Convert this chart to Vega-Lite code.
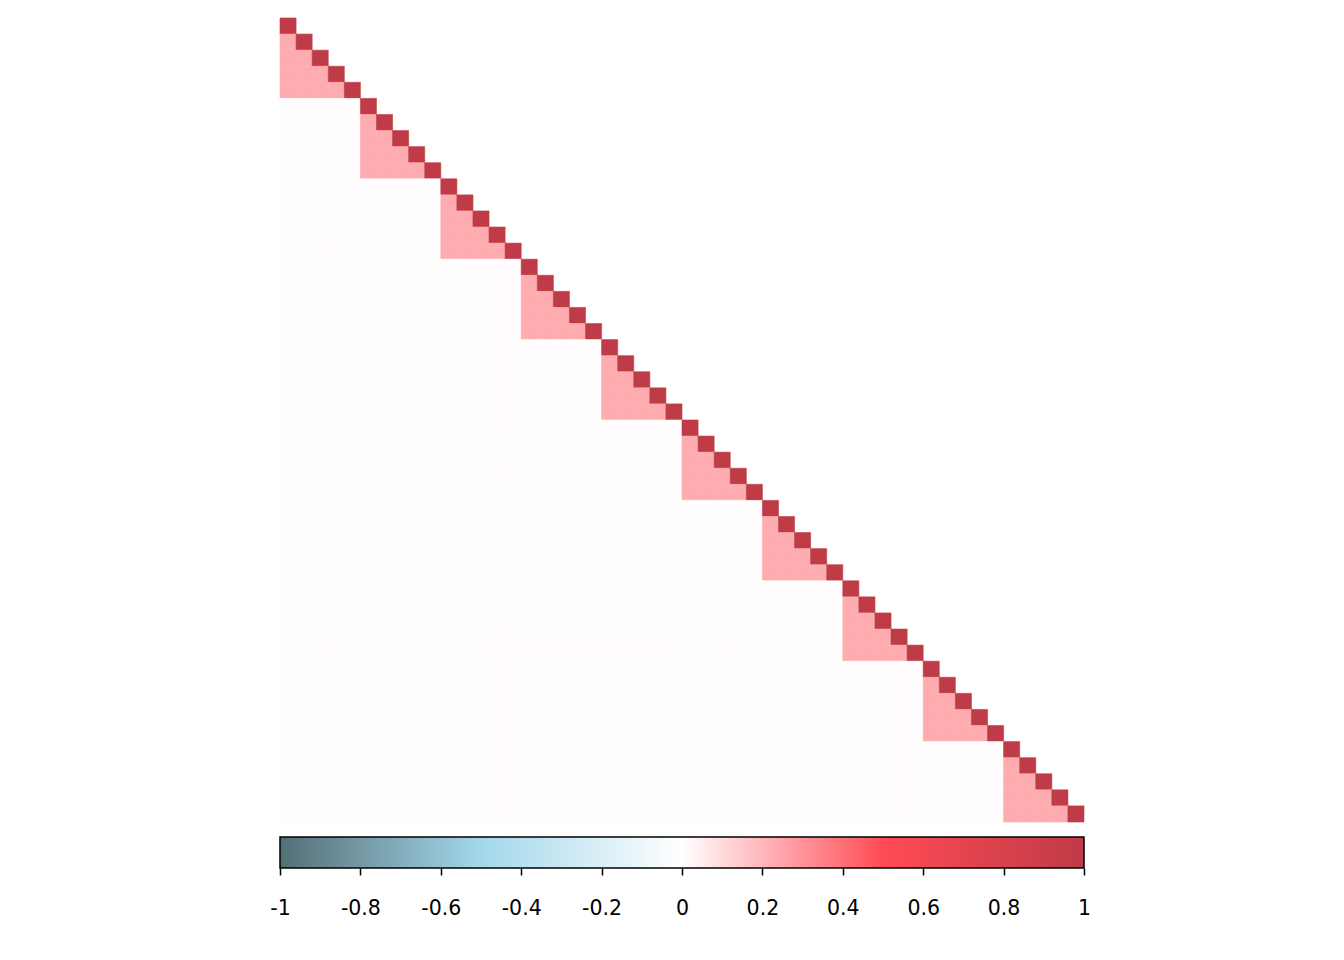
{
"$schema":"https://vega.github.io/schema/vega-lite/v6.json",
"padding":{"left":269,"top":17,"right":5,"bottom":5},
"background":"white",
"config":{"view":{"stroke":null},"font":"Liberation Sans"},
"spacing":13,
"datasets":{"cells":[
{"r":1,"c":1,"v":1},
{"r":2,"c":1,"v":0.23},{"r":2,"c":2,"v":1},
{"r":3,"c":1,"v":0.23},{"r":3,"c":2,"v":0.23},{"r":3,"c":3,"v":1},
{"r":4,"c":1,"v":0.23},{"r":4,"c":2,"v":0.23},{"r":4,"c":3,"v":0.23},{"r":4,"c":4,"v":1},
{"r":5,"c":1,"v":0.23},{"r":5,"c":2,"v":0.23},{"r":5,"c":3,"v":0.23},{"r":5,"c":4,"v":0.23},{"r":5,"c":5,"v":1},
{"r":6,"c":1,"v":0.005},{"r":6,"c":2,"v":0.005},{"r":6,"c":3,"v":0.005},{"r":6,"c":4,"v":0.005},{"r":6,"c":5,"v":0.005},{"r":6,"c":6,"v":1},
{"r":7,"c":1,"v":0.005},{"r":7,"c":2,"v":0.005},{"r":7,"c":3,"v":0.005},{"r":7,"c":4,"v":0.005},{"r":7,"c":5,"v":0.005},{"r":7,"c":6,"v":0.23},{"r":7,"c":7,"v":1},
{"r":8,"c":1,"v":0.005},{"r":8,"c":2,"v":0.005},{"r":8,"c":3,"v":0.005},{"r":8,"c":4,"v":0.005},{"r":8,"c":5,"v":0.005},{"r":8,"c":6,"v":0.23},{"r":8,"c":7,"v":0.23},{"r":8,"c":8,"v":1},
{"r":9,"c":1,"v":0.005},{"r":9,"c":2,"v":0.005},{"r":9,"c":3,"v":0.005},{"r":9,"c":4,"v":0.005},{"r":9,"c":5,"v":0.005},{"r":9,"c":6,"v":0.23},{"r":9,"c":7,"v":0.23},{"r":9,"c":8,"v":0.23},{"r":9,"c":9,"v":1},
{"r":10,"c":1,"v":0.005},{"r":10,"c":2,"v":0.005},{"r":10,"c":3,"v":0.005},{"r":10,"c":4,"v":0.005},{"r":10,"c":5,"v":0.005},{"r":10,"c":6,"v":0.23},{"r":10,"c":7,"v":0.23},{"r":10,"c":8,"v":0.23},{"r":10,"c":9,"v":0.23},{"r":10,"c":10,"v":1},
{"r":11,"c":1,"v":0.005},{"r":11,"c":2,"v":0.005},{"r":11,"c":3,"v":0.005},{"r":11,"c":4,"v":0.005},{"r":11,"c":5,"v":0.005},{"r":11,"c":6,"v":0.005},{"r":11,"c":7,"v":0.005},{"r":11,"c":8,"v":0.005},{"r":11,"c":9,"v":0.005},{"r":11,"c":10,"v":0.005},{"r":11,"c":11,"v":1},
{"r":12,"c":1,"v":0.005},{"r":12,"c":2,"v":0.005},{"r":12,"c":3,"v":0.005},{"r":12,"c":4,"v":0.005},{"r":12,"c":5,"v":0.005},{"r":12,"c":6,"v":0.005},{"r":12,"c":7,"v":0.005},{"r":12,"c":8,"v":0.005},{"r":12,"c":9,"v":0.005},{"r":12,"c":10,"v":0.005},{"r":12,"c":11,"v":0.23},{"r":12,"c":12,"v":1},
{"r":13,"c":1,"v":0.005},{"r":13,"c":2,"v":0.005},{"r":13,"c":3,"v":0.005},{"r":13,"c":4,"v":0.005},{"r":13,"c":5,"v":0.005},{"r":13,"c":6,"v":0.005},{"r":13,"c":7,"v":0.005},{"r":13,"c":8,"v":0.005},{"r":13,"c":9,"v":0.005},{"r":13,"c":10,"v":0.005},{"r":13,"c":11,"v":0.23},{"r":13,"c":12,"v":0.23},{"r":13,"c":13,"v":1},
{"r":14,"c":1,"v":0.005},{"r":14,"c":2,"v":0.005},{"r":14,"c":3,"v":0.005},{"r":14,"c":4,"v":0.005},{"r":14,"c":5,"v":0.005},{"r":14,"c":6,"v":0.005},{"r":14,"c":7,"v":0.005},{"r":14,"c":8,"v":0.005},{"r":14,"c":9,"v":0.005},{"r":14,"c":10,"v":0.005},{"r":14,"c":11,"v":0.23},{"r":14,"c":12,"v":0.23},{"r":14,"c":13,"v":0.23},{"r":14,"c":14,"v":1},
{"r":15,"c":1,"v":0.005},{"r":15,"c":2,"v":0.005},{"r":15,"c":3,"v":0.005},{"r":15,"c":4,"v":0.005},{"r":15,"c":5,"v":0.005},{"r":15,"c":6,"v":0.005},{"r":15,"c":7,"v":0.005},{"r":15,"c":8,"v":0.005},{"r":15,"c":9,"v":0.005},{"r":15,"c":10,"v":0.005},{"r":15,"c":11,"v":0.23},{"r":15,"c":12,"v":0.23},{"r":15,"c":13,"v":0.23},{"r":15,"c":14,"v":0.23},{"r":15,"c":15,"v":1},
{"r":16,"c":1,"v":0.005},{"r":16,"c":2,"v":0.005},{"r":16,"c":3,"v":0.005},{"r":16,"c":4,"v":0.005},{"r":16,"c":5,"v":0.005},{"r":16,"c":6,"v":0.005},{"r":16,"c":7,"v":0.005},{"r":16,"c":8,"v":0.005},{"r":16,"c":9,"v":0.005},{"r":16,"c":10,"v":0.005},{"r":16,"c":11,"v":0.005},{"r":16,"c":12,"v":0.005},{"r":16,"c":13,"v":0.005},{"r":16,"c":14,"v":0.005},{"r":16,"c":15,"v":0.005},{"r":16,"c":16,"v":1},
{"r":17,"c":1,"v":0.005},{"r":17,"c":2,"v":0.005},{"r":17,"c":3,"v":0.005},{"r":17,"c":4,"v":0.005},{"r":17,"c":5,"v":0.005},{"r":17,"c":6,"v":0.005},{"r":17,"c":7,"v":0.005},{"r":17,"c":8,"v":0.005},{"r":17,"c":9,"v":0.005},{"r":17,"c":10,"v":0.005},{"r":17,"c":11,"v":0.005},{"r":17,"c":12,"v":0.005},{"r":17,"c":13,"v":0.005},{"r":17,"c":14,"v":0.005},{"r":17,"c":15,"v":0.005},{"r":17,"c":16,"v":0.23},{"r":17,"c":17,"v":1},
{"r":18,"c":1,"v":0.005},{"r":18,"c":2,"v":0.005},{"r":18,"c":3,"v":0.005},{"r":18,"c":4,"v":0.005},{"r":18,"c":5,"v":0.005},{"r":18,"c":6,"v":0.005},{"r":18,"c":7,"v":0.005},{"r":18,"c":8,"v":0.005},{"r":18,"c":9,"v":0.005},{"r":18,"c":10,"v":0.005},{"r":18,"c":11,"v":0.005},{"r":18,"c":12,"v":0.005},{"r":18,"c":13,"v":0.005},{"r":18,"c":14,"v":0.005},{"r":18,"c":15,"v":0.005},{"r":18,"c":16,"v":0.23},{"r":18,"c":17,"v":0.23},{"r":18,"c":18,"v":1},
{"r":19,"c":1,"v":0.005},{"r":19,"c":2,"v":0.005},{"r":19,"c":3,"v":0.005},{"r":19,"c":4,"v":0.005},{"r":19,"c":5,"v":0.005},{"r":19,"c":6,"v":0.005},{"r":19,"c":7,"v":0.005},{"r":19,"c":8,"v":0.005},{"r":19,"c":9,"v":0.005},{"r":19,"c":10,"v":0.005},{"r":19,"c":11,"v":0.005},{"r":19,"c":12,"v":0.005},{"r":19,"c":13,"v":0.005},{"r":19,"c":14,"v":0.005},{"r":19,"c":15,"v":0.005},{"r":19,"c":16,"v":0.23},{"r":19,"c":17,"v":0.23},{"r":19,"c":18,"v":0.23},{"r":19,"c":19,"v":1},
{"r":20,"c":1,"v":0.005},{"r":20,"c":2,"v":0.005},{"r":20,"c":3,"v":0.005},{"r":20,"c":4,"v":0.005},{"r":20,"c":5,"v":0.005},{"r":20,"c":6,"v":0.005},{"r":20,"c":7,"v":0.005},{"r":20,"c":8,"v":0.005},{"r":20,"c":9,"v":0.005},{"r":20,"c":10,"v":0.005},{"r":20,"c":11,"v":0.005},{"r":20,"c":12,"v":0.005},{"r":20,"c":13,"v":0.005},{"r":20,"c":14,"v":0.005},{"r":20,"c":15,"v":0.005},{"r":20,"c":16,"v":0.23},{"r":20,"c":17,"v":0.23},{"r":20,"c":18,"v":0.23},{"r":20,"c":19,"v":0.23},{"r":20,"c":20,"v":1},
{"r":21,"c":1,"v":0.005},{"r":21,"c":2,"v":0.005},{"r":21,"c":3,"v":0.005},{"r":21,"c":4,"v":0.005},{"r":21,"c":5,"v":0.005},{"r":21,"c":6,"v":0.005},{"r":21,"c":7,"v":0.005},{"r":21,"c":8,"v":0.005},{"r":21,"c":9,"v":0.005},{"r":21,"c":10,"v":0.005},{"r":21,"c":11,"v":0.005},{"r":21,"c":12,"v":0.005},{"r":21,"c":13,"v":0.005},{"r":21,"c":14,"v":0.005},{"r":21,"c":15,"v":0.005},{"r":21,"c":16,"v":0.005},{"r":21,"c":17,"v":0.005},{"r":21,"c":18,"v":0.005},{"r":21,"c":19,"v":0.005},{"r":21,"c":20,"v":0.005},{"r":21,"c":21,"v":1},
{"r":22,"c":1,"v":0.005},{"r":22,"c":2,"v":0.005},{"r":22,"c":3,"v":0.005},{"r":22,"c":4,"v":0.005},{"r":22,"c":5,"v":0.005},{"r":22,"c":6,"v":0.005},{"r":22,"c":7,"v":0.005},{"r":22,"c":8,"v":0.005},{"r":22,"c":9,"v":0.005},{"r":22,"c":10,"v":0.005},{"r":22,"c":11,"v":0.005},{"r":22,"c":12,"v":0.005},{"r":22,"c":13,"v":0.005},{"r":22,"c":14,"v":0.005},{"r":22,"c":15,"v":0.005},{"r":22,"c":16,"v":0.005},{"r":22,"c":17,"v":0.005},{"r":22,"c":18,"v":0.005},{"r":22,"c":19,"v":0.005},{"r":22,"c":20,"v":0.005},{"r":22,"c":21,"v":0.23},{"r":22,"c":22,"v":1},
{"r":23,"c":1,"v":0.005},{"r":23,"c":2,"v":0.005},{"r":23,"c":3,"v":0.005},{"r":23,"c":4,"v":0.005},{"r":23,"c":5,"v":0.005},{"r":23,"c":6,"v":0.005},{"r":23,"c":7,"v":0.005},{"r":23,"c":8,"v":0.005},{"r":23,"c":9,"v":0.005},{"r":23,"c":10,"v":0.005},{"r":23,"c":11,"v":0.005},{"r":23,"c":12,"v":0.005},{"r":23,"c":13,"v":0.005},{"r":23,"c":14,"v":0.005},{"r":23,"c":15,"v":0.005},{"r":23,"c":16,"v":0.005},{"r":23,"c":17,"v":0.005},{"r":23,"c":18,"v":0.005},{"r":23,"c":19,"v":0.005},{"r":23,"c":20,"v":0.005},{"r":23,"c":21,"v":0.23},{"r":23,"c":22,"v":0.23},{"r":23,"c":23,"v":1},
{"r":24,"c":1,"v":0.005},{"r":24,"c":2,"v":0.005},{"r":24,"c":3,"v":0.005},{"r":24,"c":4,"v":0.005},{"r":24,"c":5,"v":0.005},{"r":24,"c":6,"v":0.005},{"r":24,"c":7,"v":0.005},{"r":24,"c":8,"v":0.005},{"r":24,"c":9,"v":0.005},{"r":24,"c":10,"v":0.005},{"r":24,"c":11,"v":0.005},{"r":24,"c":12,"v":0.005},{"r":24,"c":13,"v":0.005},{"r":24,"c":14,"v":0.005},{"r":24,"c":15,"v":0.005},{"r":24,"c":16,"v":0.005},{"r":24,"c":17,"v":0.005},{"r":24,"c":18,"v":0.005},{"r":24,"c":19,"v":0.005},{"r":24,"c":20,"v":0.005},{"r":24,"c":21,"v":0.23},{"r":24,"c":22,"v":0.23},{"r":24,"c":23,"v":0.23},{"r":24,"c":24,"v":1},
{"r":25,"c":1,"v":0.005},{"r":25,"c":2,"v":0.005},{"r":25,"c":3,"v":0.005},{"r":25,"c":4,"v":0.005},{"r":25,"c":5,"v":0.005},{"r":25,"c":6,"v":0.005},{"r":25,"c":7,"v":0.005},{"r":25,"c":8,"v":0.005},{"r":25,"c":9,"v":0.005},{"r":25,"c":10,"v":0.005},{"r":25,"c":11,"v":0.005},{"r":25,"c":12,"v":0.005},{"r":25,"c":13,"v":0.005},{"r":25,"c":14,"v":0.005},{"r":25,"c":15,"v":0.005},{"r":25,"c":16,"v":0.005},{"r":25,"c":17,"v":0.005},{"r":25,"c":18,"v":0.005},{"r":25,"c":19,"v":0.005},{"r":25,"c":20,"v":0.005},{"r":25,"c":21,"v":0.23},{"r":25,"c":22,"v":0.23},{"r":25,"c":23,"v":0.23},{"r":25,"c":24,"v":0.23},{"r":25,"c":25,"v":1},
{"r":26,"c":1,"v":0.005},{"r":26,"c":2,"v":0.005},{"r":26,"c":3,"v":0.005},{"r":26,"c":4,"v":0.005},{"r":26,"c":5,"v":0.005},{"r":26,"c":6,"v":0.005},{"r":26,"c":7,"v":0.005},{"r":26,"c":8,"v":0.005},{"r":26,"c":9,"v":0.005},{"r":26,"c":10,"v":0.005},{"r":26,"c":11,"v":0.005},{"r":26,"c":12,"v":0.005},{"r":26,"c":13,"v":0.005},{"r":26,"c":14,"v":0.005},{"r":26,"c":15,"v":0.005},{"r":26,"c":16,"v":0.005},{"r":26,"c":17,"v":0.005},{"r":26,"c":18,"v":0.005},{"r":26,"c":19,"v":0.005},{"r":26,"c":20,"v":0.005},{"r":26,"c":21,"v":0.005},{"r":26,"c":22,"v":0.005},{"r":26,"c":23,"v":0.005},{"r":26,"c":24,"v":0.005},{"r":26,"c":25,"v":0.005},{"r":26,"c":26,"v":1},
{"r":27,"c":1,"v":0.005},{"r":27,"c":2,"v":0.005},{"r":27,"c":3,"v":0.005},{"r":27,"c":4,"v":0.005},{"r":27,"c":5,"v":0.005},{"r":27,"c":6,"v":0.005},{"r":27,"c":7,"v":0.005},{"r":27,"c":8,"v":0.005},{"r":27,"c":9,"v":0.005},{"r":27,"c":10,"v":0.005},{"r":27,"c":11,"v":0.005},{"r":27,"c":12,"v":0.005},{"r":27,"c":13,"v":0.005},{"r":27,"c":14,"v":0.005},{"r":27,"c":15,"v":0.005},{"r":27,"c":16,"v":0.005},{"r":27,"c":17,"v":0.005},{"r":27,"c":18,"v":0.005},{"r":27,"c":19,"v":0.005},{"r":27,"c":20,"v":0.005},{"r":27,"c":21,"v":0.005},{"r":27,"c":22,"v":0.005},{"r":27,"c":23,"v":0.005},{"r":27,"c":24,"v":0.005},{"r":27,"c":25,"v":0.005},{"r":27,"c":26,"v":0.23},{"r":27,"c":27,"v":1},
{"r":28,"c":1,"v":0.005},{"r":28,"c":2,"v":0.005},{"r":28,"c":3,"v":0.005},{"r":28,"c":4,"v":0.005},{"r":28,"c":5,"v":0.005},{"r":28,"c":6,"v":0.005},{"r":28,"c":7,"v":0.005},{"r":28,"c":8,"v":0.005},{"r":28,"c":9,"v":0.005},{"r":28,"c":10,"v":0.005},{"r":28,"c":11,"v":0.005},{"r":28,"c":12,"v":0.005},{"r":28,"c":13,"v":0.005},{"r":28,"c":14,"v":0.005},{"r":28,"c":15,"v":0.005},{"r":28,"c":16,"v":0.005},{"r":28,"c":17,"v":0.005},{"r":28,"c":18,"v":0.005},{"r":28,"c":19,"v":0.005},{"r":28,"c":20,"v":0.005},{"r":28,"c":21,"v":0.005},{"r":28,"c":22,"v":0.005},{"r":28,"c":23,"v":0.005},{"r":28,"c":24,"v":0.005},{"r":28,"c":25,"v":0.005},{"r":28,"c":26,"v":0.23},{"r":28,"c":27,"v":0.23},{"r":28,"c":28,"v":1},
{"r":29,"c":1,"v":0.005},{"r":29,"c":2,"v":0.005},{"r":29,"c":3,"v":0.005},{"r":29,"c":4,"v":0.005},{"r":29,"c":5,"v":0.005},{"r":29,"c":6,"v":0.005},{"r":29,"c":7,"v":0.005},{"r":29,"c":8,"v":0.005},{"r":29,"c":9,"v":0.005},{"r":29,"c":10,"v":0.005},{"r":29,"c":11,"v":0.005},{"r":29,"c":12,"v":0.005},{"r":29,"c":13,"v":0.005},{"r":29,"c":14,"v":0.005},{"r":29,"c":15,"v":0.005},{"r":29,"c":16,"v":0.005},{"r":29,"c":17,"v":0.005},{"r":29,"c":18,"v":0.005},{"r":29,"c":19,"v":0.005},{"r":29,"c":20,"v":0.005},{"r":29,"c":21,"v":0.005},{"r":29,"c":22,"v":0.005},{"r":29,"c":23,"v":0.005},{"r":29,"c":24,"v":0.005},{"r":29,"c":25,"v":0.005},{"r":29,"c":26,"v":0.23},{"r":29,"c":27,"v":0.23},{"r":29,"c":28,"v":0.23},{"r":29,"c":29,"v":1},
{"r":30,"c":1,"v":0.005},{"r":30,"c":2,"v":0.005},{"r":30,"c":3,"v":0.005},{"r":30,"c":4,"v":0.005},{"r":30,"c":5,"v":0.005},{"r":30,"c":6,"v":0.005},{"r":30,"c":7,"v":0.005},{"r":30,"c":8,"v":0.005},{"r":30,"c":9,"v":0.005},{"r":30,"c":10,"v":0.005},{"r":30,"c":11,"v":0.005},{"r":30,"c":12,"v":0.005},{"r":30,"c":13,"v":0.005},{"r":30,"c":14,"v":0.005},{"r":30,"c":15,"v":0.005},{"r":30,"c":16,"v":0.005},{"r":30,"c":17,"v":0.005},{"r":30,"c":18,"v":0.005},{"r":30,"c":19,"v":0.005},{"r":30,"c":20,"v":0.005},{"r":30,"c":21,"v":0.005},{"r":30,"c":22,"v":0.005},{"r":30,"c":23,"v":0.005},{"r":30,"c":24,"v":0.005},{"r":30,"c":25,"v":0.005},{"r":30,"c":26,"v":0.23},{"r":30,"c":27,"v":0.23},{"r":30,"c":28,"v":0.23},{"r":30,"c":29,"v":0.23},{"r":30,"c":30,"v":1},
{"r":31,"c":1,"v":0.005},{"r":31,"c":2,"v":0.005},{"r":31,"c":3,"v":0.005},{"r":31,"c":4,"v":0.005},{"r":31,"c":5,"v":0.005},{"r":31,"c":6,"v":0.005},{"r":31,"c":7,"v":0.005},{"r":31,"c":8,"v":0.005},{"r":31,"c":9,"v":0.005},{"r":31,"c":10,"v":0.005},{"r":31,"c":11,"v":0.005},{"r":31,"c":12,"v":0.005},{"r":31,"c":13,"v":0.005},{"r":31,"c":14,"v":0.005},{"r":31,"c":15,"v":0.005},{"r":31,"c":16,"v":0.005},{"r":31,"c":17,"v":0.005},{"r":31,"c":18,"v":0.005},{"r":31,"c":19,"v":0.005},{"r":31,"c":20,"v":0.005},{"r":31,"c":21,"v":0.005},{"r":31,"c":22,"v":0.005},{"r":31,"c":23,"v":0.005},{"r":31,"c":24,"v":0.005},{"r":31,"c":25,"v":0.005},{"r":31,"c":26,"v":0.005},{"r":31,"c":27,"v":0.005},{"r":31,"c":28,"v":0.005},{"r":31,"c":29,"v":0.005},{"r":31,"c":30,"v":0.005},{"r":31,"c":31,"v":1},
{"r":32,"c":1,"v":0.005},{"r":32,"c":2,"v":0.005},{"r":32,"c":3,"v":0.005},{"r":32,"c":4,"v":0.005},{"r":32,"c":5,"v":0.005},{"r":32,"c":6,"v":0.005},{"r":32,"c":7,"v":0.005},{"r":32,"c":8,"v":0.005},{"r":32,"c":9,"v":0.005},{"r":32,"c":10,"v":0.005},{"r":32,"c":11,"v":0.005},{"r":32,"c":12,"v":0.005},{"r":32,"c":13,"v":0.005},{"r":32,"c":14,"v":0.005},{"r":32,"c":15,"v":0.005},{"r":32,"c":16,"v":0.005},{"r":32,"c":17,"v":0.005},{"r":32,"c":18,"v":0.005},{"r":32,"c":19,"v":0.005},{"r":32,"c":20,"v":0.005},{"r":32,"c":21,"v":0.005},{"r":32,"c":22,"v":0.005},{"r":32,"c":23,"v":0.005},{"r":32,"c":24,"v":0.005},{"r":32,"c":25,"v":0.005},{"r":32,"c":26,"v":0.005},{"r":32,"c":27,"v":0.005},{"r":32,"c":28,"v":0.005},{"r":32,"c":29,"v":0.005},{"r":32,"c":30,"v":0.005},{"r":32,"c":31,"v":0.23},{"r":32,"c":32,"v":1},
{"r":33,"c":1,"v":0.005},{"r":33,"c":2,"v":0.005},{"r":33,"c":3,"v":0.005},{"r":33,"c":4,"v":0.005},{"r":33,"c":5,"v":0.005},{"r":33,"c":6,"v":0.005},{"r":33,"c":7,"v":0.005},{"r":33,"c":8,"v":0.005},{"r":33,"c":9,"v":0.005},{"r":33,"c":10,"v":0.005},{"r":33,"c":11,"v":0.005},{"r":33,"c":12,"v":0.005},{"r":33,"c":13,"v":0.005},{"r":33,"c":14,"v":0.005},{"r":33,"c":15,"v":0.005},{"r":33,"c":16,"v":0.005},{"r":33,"c":17,"v":0.005},{"r":33,"c":18,"v":0.005},{"r":33,"c":19,"v":0.005},{"r":33,"c":20,"v":0.005},{"r":33,"c":21,"v":0.005},{"r":33,"c":22,"v":0.005},{"r":33,"c":23,"v":0.005},{"r":33,"c":24,"v":0.005},{"r":33,"c":25,"v":0.005},{"r":33,"c":26,"v":0.005},{"r":33,"c":27,"v":0.005},{"r":33,"c":28,"v":0.005},{"r":33,"c":29,"v":0.005},{"r":33,"c":30,"v":0.005},{"r":33,"c":31,"v":0.23},{"r":33,"c":32,"v":0.23},{"r":33,"c":33,"v":1},
{"r":34,"c":1,"v":0.005},{"r":34,"c":2,"v":0.005},{"r":34,"c":3,"v":0.005},{"r":34,"c":4,"v":0.005},{"r":34,"c":5,"v":0.005},{"r":34,"c":6,"v":0.005},{"r":34,"c":7,"v":0.005},{"r":34,"c":8,"v":0.005},{"r":34,"c":9,"v":0.005},{"r":34,"c":10,"v":0.005},{"r":34,"c":11,"v":0.005},{"r":34,"c":12,"v":0.005},{"r":34,"c":13,"v":0.005},{"r":34,"c":14,"v":0.005},{"r":34,"c":15,"v":0.005},{"r":34,"c":16,"v":0.005},{"r":34,"c":17,"v":0.005},{"r":34,"c":18,"v":0.005},{"r":34,"c":19,"v":0.005},{"r":34,"c":20,"v":0.005},{"r":34,"c":21,"v":0.005},{"r":34,"c":22,"v":0.005},{"r":34,"c":23,"v":0.005},{"r":34,"c":24,"v":0.005},{"r":34,"c":25,"v":0.005},{"r":34,"c":26,"v":0.005},{"r":34,"c":27,"v":0.005},{"r":34,"c":28,"v":0.005},{"r":34,"c":29,"v":0.005},{"r":34,"c":30,"v":0.005},{"r":34,"c":31,"v":0.23},{"r":34,"c":32,"v":0.23},{"r":34,"c":33,"v":0.23},{"r":34,"c":34,"v":1},
{"r":35,"c":1,"v":0.005},{"r":35,"c":2,"v":0.005},{"r":35,"c":3,"v":0.005},{"r":35,"c":4,"v":0.005},{"r":35,"c":5,"v":0.005},{"r":35,"c":6,"v":0.005},{"r":35,"c":7,"v":0.005},{"r":35,"c":8,"v":0.005},{"r":35,"c":9,"v":0.005},{"r":35,"c":10,"v":0.005},{"r":35,"c":11,"v":0.005},{"r":35,"c":12,"v":0.005},{"r":35,"c":13,"v":0.005},{"r":35,"c":14,"v":0.005},{"r":35,"c":15,"v":0.005},{"r":35,"c":16,"v":0.005},{"r":35,"c":17,"v":0.005},{"r":35,"c":18,"v":0.005},{"r":35,"c":19,"v":0.005},{"r":35,"c":20,"v":0.005},{"r":35,"c":21,"v":0.005},{"r":35,"c":22,"v":0.005},{"r":35,"c":23,"v":0.005},{"r":35,"c":24,"v":0.005},{"r":35,"c":25,"v":0.005},{"r":35,"c":26,"v":0.005},{"r":35,"c":27,"v":0.005},{"r":35,"c":28,"v":0.005},{"r":35,"c":29,"v":0.005},{"r":35,"c":30,"v":0.005},{"r":35,"c":31,"v":0.23},{"r":35,"c":32,"v":0.23},{"r":35,"c":33,"v":0.23},{"r":35,"c":34,"v":0.23},{"r":35,"c":35,"v":1},
{"r":36,"c":1,"v":0.005},{"r":36,"c":2,"v":0.005},{"r":36,"c":3,"v":0.005},{"r":36,"c":4,"v":0.005},{"r":36,"c":5,"v":0.005},{"r":36,"c":6,"v":0.005},{"r":36,"c":7,"v":0.005},{"r":36,"c":8,"v":0.005},{"r":36,"c":9,"v":0.005},{"r":36,"c":10,"v":0.005},{"r":36,"c":11,"v":0.005},{"r":36,"c":12,"v":0.005},{"r":36,"c":13,"v":0.005},{"r":36,"c":14,"v":0.005},{"r":36,"c":15,"v":0.005},{"r":36,"c":16,"v":0.005},{"r":36,"c":17,"v":0.005},{"r":36,"c":18,"v":0.005},{"r":36,"c":19,"v":0.005},{"r":36,"c":20,"v":0.005},{"r":36,"c":21,"v":0.005},{"r":36,"c":22,"v":0.005},{"r":36,"c":23,"v":0.005},{"r":36,"c":24,"v":0.005},{"r":36,"c":25,"v":0.005},{"r":36,"c":26,"v":0.005},{"r":36,"c":27,"v":0.005},{"r":36,"c":28,"v":0.005},{"r":36,"c":29,"v":0.005},{"r":36,"c":30,"v":0.005},{"r":36,"c":31,"v":0.005},{"r":36,"c":32,"v":0.005},{"r":36,"c":33,"v":0.005},{"r":36,"c":34,"v":0.005},{"r":36,"c":35,"v":0.005},{"r":36,"c":36,"v":1},
{"r":37,"c":1,"v":0.005},{"r":37,"c":2,"v":0.005},{"r":37,"c":3,"v":0.005},{"r":37,"c":4,"v":0.005},{"r":37,"c":5,"v":0.005},{"r":37,"c":6,"v":0.005},{"r":37,"c":7,"v":0.005},{"r":37,"c":8,"v":0.005},{"r":37,"c":9,"v":0.005},{"r":37,"c":10,"v":0.005},{"r":37,"c":11,"v":0.005},{"r":37,"c":12,"v":0.005},{"r":37,"c":13,"v":0.005},{"r":37,"c":14,"v":0.005},{"r":37,"c":15,"v":0.005},{"r":37,"c":16,"v":0.005},{"r":37,"c":17,"v":0.005},{"r":37,"c":18,"v":0.005},{"r":37,"c":19,"v":0.005},{"r":37,"c":20,"v":0.005},{"r":37,"c":21,"v":0.005},{"r":37,"c":22,"v":0.005},{"r":37,"c":23,"v":0.005},{"r":37,"c":24,"v":0.005},{"r":37,"c":25,"v":0.005},{"r":37,"c":26,"v":0.005},{"r":37,"c":27,"v":0.005},{"r":37,"c":28,"v":0.005},{"r":37,"c":29,"v":0.005},{"r":37,"c":30,"v":0.005},{"r":37,"c":31,"v":0.005},{"r":37,"c":32,"v":0.005},{"r":37,"c":33,"v":0.005},{"r":37,"c":34,"v":0.005},{"r":37,"c":35,"v":0.005},{"r":37,"c":36,"v":0.23},{"r":37,"c":37,"v":1},
{"r":38,"c":1,"v":0.005},{"r":38,"c":2,"v":0.005},{"r":38,"c":3,"v":0.005},{"r":38,"c":4,"v":0.005},{"r":38,"c":5,"v":0.005},{"r":38,"c":6,"v":0.005},{"r":38,"c":7,"v":0.005},{"r":38,"c":8,"v":0.005},{"r":38,"c":9,"v":0.005},{"r":38,"c":10,"v":0.005},{"r":38,"c":11,"v":0.005},{"r":38,"c":12,"v":0.005},{"r":38,"c":13,"v":0.005},{"r":38,"c":14,"v":0.005},{"r":38,"c":15,"v":0.005},{"r":38,"c":16,"v":0.005},{"r":38,"c":17,"v":0.005},{"r":38,"c":18,"v":0.005},{"r":38,"c":19,"v":0.005},{"r":38,"c":20,"v":0.005},{"r":38,"c":21,"v":0.005},{"r":38,"c":22,"v":0.005},{"r":38,"c":23,"v":0.005},{"r":38,"c":24,"v":0.005},{"r":38,"c":25,"v":0.005},{"r":38,"c":26,"v":0.005},{"r":38,"c":27,"v":0.005},{"r":38,"c":28,"v":0.005},{"r":38,"c":29,"v":0.005},{"r":38,"c":30,"v":0.005},{"r":38,"c":31,"v":0.005},{"r":38,"c":32,"v":0.005},{"r":38,"c":33,"v":0.005},{"r":38,"c":34,"v":0.005},{"r":38,"c":35,"v":0.005},{"r":38,"c":36,"v":0.23},{"r":38,"c":37,"v":0.23},{"r":38,"c":38,"v":1},
{"r":39,"c":1,"v":0.005},{"r":39,"c":2,"v":0.005},{"r":39,"c":3,"v":0.005},{"r":39,"c":4,"v":0.005},{"r":39,"c":5,"v":0.005},{"r":39,"c":6,"v":0.005},{"r":39,"c":7,"v":0.005},{"r":39,"c":8,"v":0.005},{"r":39,"c":9,"v":0.005},{"r":39,"c":10,"v":0.005},{"r":39,"c":11,"v":0.005},{"r":39,"c":12,"v":0.005},{"r":39,"c":13,"v":0.005},{"r":39,"c":14,"v":0.005},{"r":39,"c":15,"v":0.005},{"r":39,"c":16,"v":0.005},{"r":39,"c":17,"v":0.005},{"r":39,"c":18,"v":0.005},{"r":39,"c":19,"v":0.005},{"r":39,"c":20,"v":0.005},{"r":39,"c":21,"v":0.005},{"r":39,"c":22,"v":0.005},{"r":39,"c":23,"v":0.005},{"r":39,"c":24,"v":0.005},{"r":39,"c":25,"v":0.005},{"r":39,"c":26,"v":0.005},{"r":39,"c":27,"v":0.005},{"r":39,"c":28,"v":0.005},{"r":39,"c":29,"v":0.005},{"r":39,"c":30,"v":0.005},{"r":39,"c":31,"v":0.005},{"r":39,"c":32,"v":0.005},{"r":39,"c":33,"v":0.005},{"r":39,"c":34,"v":0.005},{"r":39,"c":35,"v":0.005},{"r":39,"c":36,"v":0.23},{"r":39,"c":37,"v":0.23},{"r":39,"c":38,"v":0.23},{"r":39,"c":39,"v":1},
{"r":40,"c":1,"v":0.005},{"r":40,"c":2,"v":0.005},{"r":40,"c":3,"v":0.005},{"r":40,"c":4,"v":0.005},{"r":40,"c":5,"v":0.005},{"r":40,"c":6,"v":0.005},{"r":40,"c":7,"v":0.005},{"r":40,"c":8,"v":0.005},{"r":40,"c":9,"v":0.005},{"r":40,"c":10,"v":0.005},{"r":40,"c":11,"v":0.005},{"r":40,"c":12,"v":0.005},{"r":40,"c":13,"v":0.005},{"r":40,"c":14,"v":0.005},{"r":40,"c":15,"v":0.005},{"r":40,"c":16,"v":0.005},{"r":40,"c":17,"v":0.005},{"r":40,"c":18,"v":0.005},{"r":40,"c":19,"v":0.005},{"r":40,"c":20,"v":0.005},{"r":40,"c":21,"v":0.005},{"r":40,"c":22,"v":0.005},{"r":40,"c":23,"v":0.005},{"r":40,"c":24,"v":0.005},{"r":40,"c":25,"v":0.005},{"r":40,"c":26,"v":0.005},{"r":40,"c":27,"v":0.005},{"r":40,"c":28,"v":0.005},{"r":40,"c":29,"v":0.005},{"r":40,"c":30,"v":0.005},{"r":40,"c":31,"v":0.005},{"r":40,"c":32,"v":0.005},{"r":40,"c":33,"v":0.005},{"r":40,"c":34,"v":0.005},{"r":40,"c":35,"v":0.005},{"r":40,"c":36,"v":0.23},{"r":40,"c":37,"v":0.23},{"r":40,"c":38,"v":0.23},{"r":40,"c":39,"v":0.23},{"r":40,"c":40,"v":1},
{"r":41,"c":1,"v":0.005},{"r":41,"c":2,"v":0.005},{"r":41,"c":3,"v":0.005},{"r":41,"c":4,"v":0.005},{"r":41,"c":5,"v":0.005},{"r":41,"c":6,"v":0.005},{"r":41,"c":7,"v":0.005},{"r":41,"c":8,"v":0.005},{"r":41,"c":9,"v":0.005},{"r":41,"c":10,"v":0.005},{"r":41,"c":11,"v":0.005},{"r":41,"c":12,"v":0.005},{"r":41,"c":13,"v":0.005},{"r":41,"c":14,"v":0.005},{"r":41,"c":15,"v":0.005},{"r":41,"c":16,"v":0.005},{"r":41,"c":17,"v":0.005},{"r":41,"c":18,"v":0.005},{"r":41,"c":19,"v":0.005},{"r":41,"c":20,"v":0.005},{"r":41,"c":21,"v":0.005},{"r":41,"c":22,"v":0.005},{"r":41,"c":23,"v":0.005},{"r":41,"c":24,"v":0.005},{"r":41,"c":25,"v":0.005},{"r":41,"c":26,"v":0.005},{"r":41,"c":27,"v":0.005},{"r":41,"c":28,"v":0.005},{"r":41,"c":29,"v":0.005},{"r":41,"c":30,"v":0.005},{"r":41,"c":31,"v":0.005},{"r":41,"c":32,"v":0.005},{"r":41,"c":33,"v":0.005},{"r":41,"c":34,"v":0.005},{"r":41,"c":35,"v":0.005},{"r":41,"c":36,"v":0.005},{"r":41,"c":37,"v":0.005},{"r":41,"c":38,"v":0.005},{"r":41,"c":39,"v":0.005},{"r":41,"c":40,"v":0.005},{"r":41,"c":41,"v":1},
{"r":42,"c":1,"v":0.005},{"r":42,"c":2,"v":0.005},{"r":42,"c":3,"v":0.005},{"r":42,"c":4,"v":0.005},{"r":42,"c":5,"v":0.005},{"r":42,"c":6,"v":0.005},{"r":42,"c":7,"v":0.005},{"r":42,"c":8,"v":0.005},{"r":42,"c":9,"v":0.005},{"r":42,"c":10,"v":0.005},{"r":42,"c":11,"v":0.005},{"r":42,"c":12,"v":0.005},{"r":42,"c":13,"v":0.005},{"r":42,"c":14,"v":0.005},{"r":42,"c":15,"v":0.005},{"r":42,"c":16,"v":0.005},{"r":42,"c":17,"v":0.005},{"r":42,"c":18,"v":0.005},{"r":42,"c":19,"v":0.005},{"r":42,"c":20,"v":0.005},{"r":42,"c":21,"v":0.005},{"r":42,"c":22,"v":0.005},{"r":42,"c":23,"v":0.005},{"r":42,"c":24,"v":0.005},{"r":42,"c":25,"v":0.005},{"r":42,"c":26,"v":0.005},{"r":42,"c":27,"v":0.005},{"r":42,"c":28,"v":0.005},{"r":42,"c":29,"v":0.005},{"r":42,"c":30,"v":0.005},{"r":42,"c":31,"v":0.005},{"r":42,"c":32,"v":0.005},{"r":42,"c":33,"v":0.005},{"r":42,"c":34,"v":0.005},{"r":42,"c":35,"v":0.005},{"r":42,"c":36,"v":0.005},{"r":42,"c":37,"v":0.005},{"r":42,"c":38,"v":0.005},{"r":42,"c":39,"v":0.005},{"r":42,"c":40,"v":0.005},{"r":42,"c":41,"v":0.23},{"r":42,"c":42,"v":1},
{"r":43,"c":1,"v":0.005},{"r":43,"c":2,"v":0.005},{"r":43,"c":3,"v":0.005},{"r":43,"c":4,"v":0.005},{"r":43,"c":5,"v":0.005},{"r":43,"c":6,"v":0.005},{"r":43,"c":7,"v":0.005},{"r":43,"c":8,"v":0.005},{"r":43,"c":9,"v":0.005},{"r":43,"c":10,"v":0.005},{"r":43,"c":11,"v":0.005},{"r":43,"c":12,"v":0.005},{"r":43,"c":13,"v":0.005},{"r":43,"c":14,"v":0.005},{"r":43,"c":15,"v":0.005},{"r":43,"c":16,"v":0.005},{"r":43,"c":17,"v":0.005},{"r":43,"c":18,"v":0.005},{"r":43,"c":19,"v":0.005},{"r":43,"c":20,"v":0.005},{"r":43,"c":21,"v":0.005},{"r":43,"c":22,"v":0.005},{"r":43,"c":23,"v":0.005},{"r":43,"c":24,"v":0.005},{"r":43,"c":25,"v":0.005},{"r":43,"c":26,"v":0.005},{"r":43,"c":27,"v":0.005},{"r":43,"c":28,"v":0.005},{"r":43,"c":29,"v":0.005},{"r":43,"c":30,"v":0.005},{"r":43,"c":31,"v":0.005},{"r":43,"c":32,"v":0.005},{"r":43,"c":33,"v":0.005},{"r":43,"c":34,"v":0.005},{"r":43,"c":35,"v":0.005},{"r":43,"c":36,"v":0.005},{"r":43,"c":37,"v":0.005},{"r":43,"c":38,"v":0.005},{"r":43,"c":39,"v":0.005},{"r":43,"c":40,"v":0.005},{"r":43,"c":41,"v":0.23},{"r":43,"c":42,"v":0.23},{"r":43,"c":43,"v":1},
{"r":44,"c":1,"v":0.005},{"r":44,"c":2,"v":0.005},{"r":44,"c":3,"v":0.005},{"r":44,"c":4,"v":0.005},{"r":44,"c":5,"v":0.005},{"r":44,"c":6,"v":0.005},{"r":44,"c":7,"v":0.005},{"r":44,"c":8,"v":0.005},{"r":44,"c":9,"v":0.005},{"r":44,"c":10,"v":0.005},{"r":44,"c":11,"v":0.005},{"r":44,"c":12,"v":0.005},{"r":44,"c":13,"v":0.005},{"r":44,"c":14,"v":0.005},{"r":44,"c":15,"v":0.005},{"r":44,"c":16,"v":0.005},{"r":44,"c":17,"v":0.005},{"r":44,"c":18,"v":0.005},{"r":44,"c":19,"v":0.005},{"r":44,"c":20,"v":0.005},{"r":44,"c":21,"v":0.005},{"r":44,"c":22,"v":0.005},{"r":44,"c":23,"v":0.005},{"r":44,"c":24,"v":0.005},{"r":44,"c":25,"v":0.005},{"r":44,"c":26,"v":0.005},{"r":44,"c":27,"v":0.005},{"r":44,"c":28,"v":0.005},{"r":44,"c":29,"v":0.005},{"r":44,"c":30,"v":0.005},{"r":44,"c":31,"v":0.005},{"r":44,"c":32,"v":0.005},{"r":44,"c":33,"v":0.005},{"r":44,"c":34,"v":0.005},{"r":44,"c":35,"v":0.005},{"r":44,"c":36,"v":0.005},{"r":44,"c":37,"v":0.005},{"r":44,"c":38,"v":0.005},{"r":44,"c":39,"v":0.005},{"r":44,"c":40,"v":0.005},{"r":44,"c":41,"v":0.23},{"r":44,"c":42,"v":0.23},{"r":44,"c":43,"v":0.23},{"r":44,"c":44,"v":1},
{"r":45,"c":1,"v":0.005},{"r":45,"c":2,"v":0.005},{"r":45,"c":3,"v":0.005},{"r":45,"c":4,"v":0.005},{"r":45,"c":5,"v":0.005},{"r":45,"c":6,"v":0.005},{"r":45,"c":7,"v":0.005},{"r":45,"c":8,"v":0.005},{"r":45,"c":9,"v":0.005},{"r":45,"c":10,"v":0.005},{"r":45,"c":11,"v":0.005},{"r":45,"c":12,"v":0.005},{"r":45,"c":13,"v":0.005},{"r":45,"c":14,"v":0.005},{"r":45,"c":15,"v":0.005},{"r":45,"c":16,"v":0.005},{"r":45,"c":17,"v":0.005},{"r":45,"c":18,"v":0.005},{"r":45,"c":19,"v":0.005},{"r":45,"c":20,"v":0.005},{"r":45,"c":21,"v":0.005},{"r":45,"c":22,"v":0.005},{"r":45,"c":23,"v":0.005},{"r":45,"c":24,"v":0.005},{"r":45,"c":25,"v":0.005},{"r":45,"c":26,"v":0.005},{"r":45,"c":27,"v":0.005},{"r":45,"c":28,"v":0.005},{"r":45,"c":29,"v":0.005},{"r":45,"c":30,"v":0.005},{"r":45,"c":31,"v":0.005},{"r":45,"c":32,"v":0.005},{"r":45,"c":33,"v":0.005},{"r":45,"c":34,"v":0.005},{"r":45,"c":35,"v":0.005},{"r":45,"c":36,"v":0.005},{"r":45,"c":37,"v":0.005},{"r":45,"c":38,"v":0.005},{"r":45,"c":39,"v":0.005},{"r":45,"c":40,"v":0.005},{"r":45,"c":41,"v":0.23},{"r":45,"c":42,"v":0.23},{"r":45,"c":43,"v":0.23},{"r":45,"c":44,"v":0.23},{"r":45,"c":45,"v":1},
{"r":46,"c":1,"v":0.005},{"r":46,"c":2,"v":0.005},{"r":46,"c":3,"v":0.005},{"r":46,"c":4,"v":0.005},{"r":46,"c":5,"v":0.005},{"r":46,"c":6,"v":0.005},{"r":46,"c":7,"v":0.005},{"r":46,"c":8,"v":0.005},{"r":46,"c":9,"v":0.005},{"r":46,"c":10,"v":0.005},{"r":46,"c":11,"v":0.005},{"r":46,"c":12,"v":0.005},{"r":46,"c":13,"v":0.005},{"r":46,"c":14,"v":0.005},{"r":46,"c":15,"v":0.005},{"r":46,"c":16,"v":0.005},{"r":46,"c":17,"v":0.005},{"r":46,"c":18,"v":0.005},{"r":46,"c":19,"v":0.005},{"r":46,"c":20,"v":0.005},{"r":46,"c":21,"v":0.005},{"r":46,"c":22,"v":0.005},{"r":46,"c":23,"v":0.005},{"r":46,"c":24,"v":0.005},{"r":46,"c":25,"v":0.005},{"r":46,"c":26,"v":0.005},{"r":46,"c":27,"v":0.005},{"r":46,"c":28,"v":0.005},{"r":46,"c":29,"v":0.005},{"r":46,"c":30,"v":0.005},{"r":46,"c":31,"v":0.005},{"r":46,"c":32,"v":0.005},{"r":46,"c":33,"v":0.005},{"r":46,"c":34,"v":0.005},{"r":46,"c":35,"v":0.005},{"r":46,"c":36,"v":0.005},{"r":46,"c":37,"v":0.005},{"r":46,"c":38,"v":0.005},{"r":46,"c":39,"v":0.005},{"r":46,"c":40,"v":0.005},{"r":46,"c":41,"v":0.005},{"r":46,"c":42,"v":0.005},{"r":46,"c":43,"v":0.005},{"r":46,"c":44,"v":0.005},{"r":46,"c":45,"v":0.005},{"r":46,"c":46,"v":1},
{"r":47,"c":1,"v":0.005},{"r":47,"c":2,"v":0.005},{"r":47,"c":3,"v":0.005},{"r":47,"c":4,"v":0.005},{"r":47,"c":5,"v":0.005},{"r":47,"c":6,"v":0.005},{"r":47,"c":7,"v":0.005},{"r":47,"c":8,"v":0.005},{"r":47,"c":9,"v":0.005},{"r":47,"c":10,"v":0.005},{"r":47,"c":11,"v":0.005},{"r":47,"c":12,"v":0.005},{"r":47,"c":13,"v":0.005},{"r":47,"c":14,"v":0.005},{"r":47,"c":15,"v":0.005},{"r":47,"c":16,"v":0.005},{"r":47,"c":17,"v":0.005},{"r":47,"c":18,"v":0.005},{"r":47,"c":19,"v":0.005},{"r":47,"c":20,"v":0.005},{"r":47,"c":21,"v":0.005},{"r":47,"c":22,"v":0.005},{"r":47,"c":23,"v":0.005},{"r":47,"c":24,"v":0.005},{"r":47,"c":25,"v":0.005},{"r":47,"c":26,"v":0.005},{"r":47,"c":27,"v":0.005},{"r":47,"c":28,"v":0.005},{"r":47,"c":29,"v":0.005},{"r":47,"c":30,"v":0.005},{"r":47,"c":31,"v":0.005},{"r":47,"c":32,"v":0.005},{"r":47,"c":33,"v":0.005},{"r":47,"c":34,"v":0.005},{"r":47,"c":35,"v":0.005},{"r":47,"c":36,"v":0.005},{"r":47,"c":37,"v":0.005},{"r":47,"c":38,"v":0.005},{"r":47,"c":39,"v":0.005},{"r":47,"c":40,"v":0.005},{"r":47,"c":41,"v":0.005},{"r":47,"c":42,"v":0.005},{"r":47,"c":43,"v":0.005},{"r":47,"c":44,"v":0.005},{"r":47,"c":45,"v":0.005},{"r":47,"c":46,"v":0.23},{"r":47,"c":47,"v":1},
{"r":48,"c":1,"v":0.005},{"r":48,"c":2,"v":0.005},{"r":48,"c":3,"v":0.005},{"r":48,"c":4,"v":0.005},{"r":48,"c":5,"v":0.005},{"r":48,"c":6,"v":0.005},{"r":48,"c":7,"v":0.005},{"r":48,"c":8,"v":0.005},{"r":48,"c":9,"v":0.005},{"r":48,"c":10,"v":0.005},{"r":48,"c":11,"v":0.005},{"r":48,"c":12,"v":0.005},{"r":48,"c":13,"v":0.005},{"r":48,"c":14,"v":0.005},{"r":48,"c":15,"v":0.005},{"r":48,"c":16,"v":0.005},{"r":48,"c":17,"v":0.005},{"r":48,"c":18,"v":0.005},{"r":48,"c":19,"v":0.005},{"r":48,"c":20,"v":0.005},{"r":48,"c":21,"v":0.005},{"r":48,"c":22,"v":0.005},{"r":48,"c":23,"v":0.005},{"r":48,"c":24,"v":0.005},{"r":48,"c":25,"v":0.005},{"r":48,"c":26,"v":0.005},{"r":48,"c":27,"v":0.005},{"r":48,"c":28,"v":0.005},{"r":48,"c":29,"v":0.005},{"r":48,"c":30,"v":0.005},{"r":48,"c":31,"v":0.005},{"r":48,"c":32,"v":0.005},{"r":48,"c":33,"v":0.005},{"r":48,"c":34,"v":0.005},{"r":48,"c":35,"v":0.005},{"r":48,"c":36,"v":0.005},{"r":48,"c":37,"v":0.005},{"r":48,"c":38,"v":0.005},{"r":48,"c":39,"v":0.005},{"r":48,"c":40,"v":0.005},{"r":48,"c":41,"v":0.005},{"r":48,"c":42,"v":0.005},{"r":48,"c":43,"v":0.005},{"r":48,"c":44,"v":0.005},{"r":48,"c":45,"v":0.005},{"r":48,"c":46,"v":0.23},{"r":48,"c":47,"v":0.23},{"r":48,"c":48,"v":1},
{"r":49,"c":1,"v":0.005},{"r":49,"c":2,"v":0.005},{"r":49,"c":3,"v":0.005},{"r":49,"c":4,"v":0.005},{"r":49,"c":5,"v":0.005},{"r":49,"c":6,"v":0.005},{"r":49,"c":7,"v":0.005},{"r":49,"c":8,"v":0.005},{"r":49,"c":9,"v":0.005},{"r":49,"c":10,"v":0.005},{"r":49,"c":11,"v":0.005},{"r":49,"c":12,"v":0.005},{"r":49,"c":13,"v":0.005},{"r":49,"c":14,"v":0.005},{"r":49,"c":15,"v":0.005},{"r":49,"c":16,"v":0.005},{"r":49,"c":17,"v":0.005},{"r":49,"c":18,"v":0.005},{"r":49,"c":19,"v":0.005},{"r":49,"c":20,"v":0.005},{"r":49,"c":21,"v":0.005},{"r":49,"c":22,"v":0.005},{"r":49,"c":23,"v":0.005},{"r":49,"c":24,"v":0.005},{"r":49,"c":25,"v":0.005},{"r":49,"c":26,"v":0.005},{"r":49,"c":27,"v":0.005},{"r":49,"c":28,"v":0.005},{"r":49,"c":29,"v":0.005},{"r":49,"c":30,"v":0.005},{"r":49,"c":31,"v":0.005},{"r":49,"c":32,"v":0.005},{"r":49,"c":33,"v":0.005},{"r":49,"c":34,"v":0.005},{"r":49,"c":35,"v":0.005},{"r":49,"c":36,"v":0.005},{"r":49,"c":37,"v":0.005},{"r":49,"c":38,"v":0.005},{"r":49,"c":39,"v":0.005},{"r":49,"c":40,"v":0.005},{"r":49,"c":41,"v":0.005},{"r":49,"c":42,"v":0.005},{"r":49,"c":43,"v":0.005},{"r":49,"c":44,"v":0.005},{"r":49,"c":45,"v":0.005},{"r":49,"c":46,"v":0.23},{"r":49,"c":47,"v":0.23},{"r":49,"c":48,"v":0.23},{"r":49,"c":49,"v":1},
{"r":50,"c":1,"v":0.005},{"r":50,"c":2,"v":0.005},{"r":50,"c":3,"v":0.005},{"r":50,"c":4,"v":0.005},{"r":50,"c":5,"v":0.005},{"r":50,"c":6,"v":0.005},{"r":50,"c":7,"v":0.005},{"r":50,"c":8,"v":0.005},{"r":50,"c":9,"v":0.005},{"r":50,"c":10,"v":0.005},{"r":50,"c":11,"v":0.005},{"r":50,"c":12,"v":0.005},{"r":50,"c":13,"v":0.005},{"r":50,"c":14,"v":0.005},{"r":50,"c":15,"v":0.005},{"r":50,"c":16,"v":0.005},{"r":50,"c":17,"v":0.005},{"r":50,"c":18,"v":0.005},{"r":50,"c":19,"v":0.005},{"r":50,"c":20,"v":0.005},{"r":50,"c":21,"v":0.005},{"r":50,"c":22,"v":0.005},{"r":50,"c":23,"v":0.005},{"r":50,"c":24,"v":0.005},{"r":50,"c":25,"v":0.005},{"r":50,"c":26,"v":0.005},{"r":50,"c":27,"v":0.005},{"r":50,"c":28,"v":0.005},{"r":50,"c":29,"v":0.005},{"r":50,"c":30,"v":0.005},{"r":50,"c":31,"v":0.005},{"r":50,"c":32,"v":0.005},{"r":50,"c":33,"v":0.005},{"r":50,"c":34,"v":0.005},{"r":50,"c":35,"v":0.005},{"r":50,"c":36,"v":0.005},{"r":50,"c":37,"v":0.005},{"r":50,"c":38,"v":0.005},{"r":50,"c":39,"v":0.005},{"r":50,"c":40,"v":0.005},{"r":50,"c":41,"v":0.005},{"r":50,"c":42,"v":0.005},{"r":50,"c":43,"v":0.005},{"r":50,"c":44,"v":0.005},{"r":50,"c":45,"v":0.005},{"r":50,"c":46,"v":0.23},{"r":50,"c":47,"v":0.23},{"r":50,"c":48,"v":0.23},{"r":50,"c":49,"v":0.23},{"r":50,"c":50,"v":1}
]},
"vconcat":[
{
"width":804,"height":804,
"data":{"name":"cells"},
"mark":{"type":"rect","strokeWidth":0.6},
"encoding":{
"x":{"field":"c","type":"ordinal","axis":null,"scale":{"paddingInner":0,"paddingOuter":0}},
"y":{"field":"r","type":"ordinal","axis":null,"scale":{"paddingInner":0,"paddingOuter":0}},
"color":{"field":"v","type":"quantitative","legend":null,"scale":{"type":"linear","domain":[-1,-0.5,0,0.5,1],"range":["#546E75","#A3D8EB","#FFFFFF","#FF4B55","#BE3B47"],"interpolate":"rgb"}},
"stroke":{"field":"v","type":"quantitative","legend":null,"scale":{"type":"linear","domain":[-1,-0.5,0,0.5,1],"range":["#546E75","#A3D8EB","#FFFFFF","#FF4B55","#BE3B47"],"interpolate":"rgb"}}
}
},
{
"width":804,"height":31,
"data":{"values":[{"a":-1,"b":1}]},
"mark":{"type":"rect","stroke":"black","strokeWidth":1.5,"fill":{"gradient":"linear","x1":0,"x2":1,"y1":0,"y2":0,"stops":[{"offset":0,"color":"#546E75"},{"offset":0.25,"color":"#A3D8EB"},{"offset":0.5,"color":"#FFFFFF"},{"offset":0.75,"color":"#FF4B55"},{"offset":1,"color":"#BE3B47"}]}},
"encoding":{
"x":{"field":"a","type":"quantitative","scale":{"domain":[-1,1],"nice":false,"zero":false},
"axis":{"values":[-1,-0.8,-0.6,-0.4,-0.2,0,0.2,0.4,0.6,0.8,1],"title":null,"domain":false,"grid":false,"ticks":true,"tickSize":7,"tickWidth":1.5,"tickColor":"black","labelFontSize":20.5,"labelFont":"DejaVu Sans","labelColor":"black","labelPadding":23,"labelFlush":false,"labelOverlap":false,"labelExpr":"replace(format(datum.value, '~g'), '\u2212', '-')"}},
"x2":{"field":"b"}
}
}
]
}
